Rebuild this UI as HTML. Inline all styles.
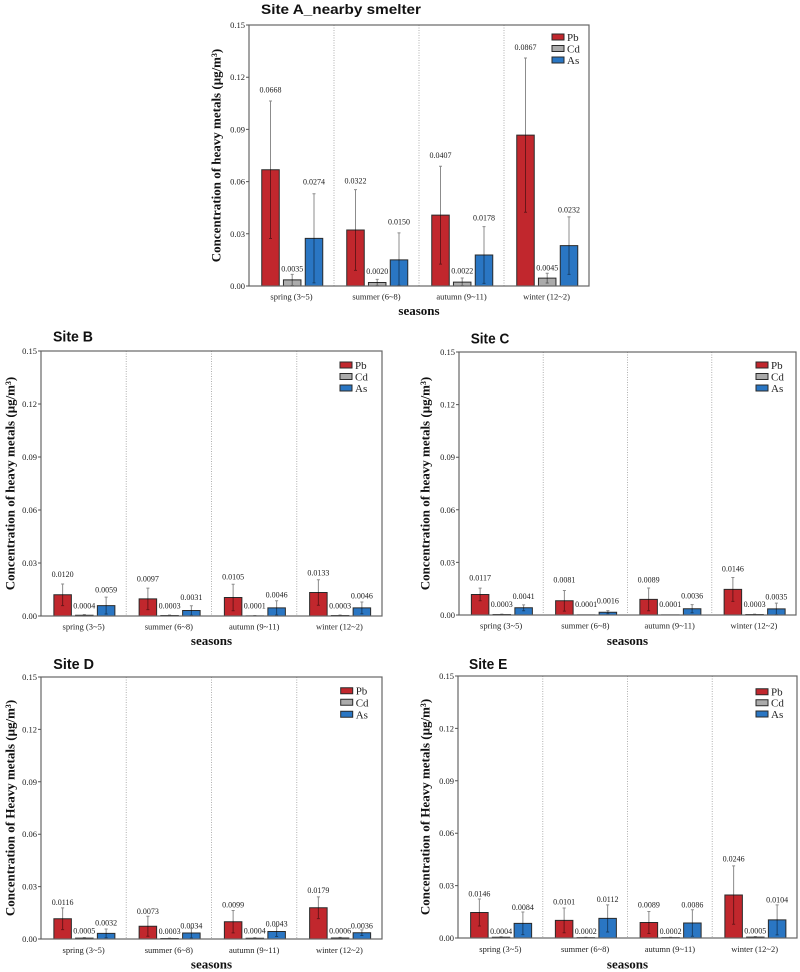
<!DOCTYPE html>
<html>
<head>
<meta charset="utf-8">
<style>
html,body{margin:0;padding:0;background:#fff;}
svg{display:block;}
.pb{fill:#c1272d;stroke:#2a2a2a;stroke-width:1;vector-effect:non-scaling-stroke;}
.cd{fill:#ababab;stroke:#2a2a2a;stroke-width:1;vector-effect:non-scaling-stroke;}
.as{fill:#2a76c3;stroke:#2a2a2a;stroke-width:1;vector-effect:non-scaling-stroke;}
.e{fill:none;stroke:#000;stroke-opacity:0.45;stroke-width:1;vector-effect:non-scaling-stroke;}
.fr{fill:none;stroke:#666;stroke-width:1.2;}
.dv{stroke:#b0b0b0;stroke-width:1;stroke-dasharray:1,1.5;}
.tk{stroke:#555;stroke-width:1;fill:none;}
.tl{font-family:"Liberation Serif",serif;font-size:8.5px;fill:#222;text-anchor:end;}
.xl{font-family:"Liberation Serif",serif;font-size:8.5px;fill:#222;text-anchor:middle;}
.vl{font-family:"Liberation Serif",serif;font-size:8px;fill:#222;text-anchor:middle;}
.lg{font-family:"Liberation Serif",serif;font-size:11px;fill:#222;}
.yt{font-family:"Liberation Serif",serif;font-size:13px;font-weight:bold;fill:#111;text-anchor:middle;dominant-baseline:central;}
.st{font-family:"Liberation Serif",serif;font-size:13px;font-weight:bold;fill:#111;text-anchor:middle;}
.ti{font-family:"Liberation Sans",sans-serif;font-weight:bold;fill:#111;}
</style>
</head>
<body>
<svg width="800" height="972" viewBox="0 0 800 972" xmlns="http://www.w3.org/2000/svg">
<rect x="0" y="0" width="800" height="972" fill="#fff"/>

<!-- ================= PANEL A ================= -->
<text class="ti" x="261" y="14" font-size="14" textLength="160" lengthAdjust="spacingAndGlyphs">Site A_nearby smelter</text>
<line class="dv" x1="334" y1="25" x2="334" y2="286"/>
<line class="dv" x1="419" y1="25" x2="419" y2="286"/>
<line class="dv" x1="504" y1="25" x2="504" y2="286"/>
<g transform="translate(291.5,286) scale(1,-1740)">
<rect class="pb" x="-29.75" y="0" width="17.5" height="0.0668"/>
<rect class="cd" x="-8.05" y="0" width="17.5" height="0.0035"/>
<rect class="as" x="13.75" y="0" width="17.5" height="0.0274"/>
<path class="e" d="M-21 .0273V.1063M-22.5 .1063H-19.5M-22.5 .0273H-19.5M.7 .0003V.0067M-.8 .0067H2.2M-.8 .0003H2.2M22.5 .0018V.053M21 .053H24M21 .0018H24"/>
</g>
<g transform="translate(376.5,286) scale(1,-1740)">
<rect class="pb" x="-29.75" y="0" width="17.5" height="0.0322"/>
<rect class="cd" x="-8.05" y="0" width="17.5" height="0.0020"/>
<rect class="as" x="13.75" y="0" width="17.5" height="0.0150"/>
<path class="e" d="M-21 .009V.0554M-22.5 .0554H-19.5M-22.5 .009H-19.5M.7 .0002V.0038M-.8 .0038H2.2M-.8 .0002H2.2M22.5 .0004V.0305M21 .0305H24M21 .0004H24"/>
</g>
<g transform="translate(461.5,286) scale(1,-1740)">
<rect class="pb" x="-29.75" y="0" width="17.5" height="0.0407"/>
<rect class="cd" x="-8.05" y="0" width="17.5" height="0.0022"/>
<rect class="as" x="13.75" y="0" width="17.5" height="0.0178"/>
<path class="e" d="M-21 .0126V.0688M-22.5 .0688H-19.5M-22.5 .0126H-19.5M.7 .0002V.0046M-.8 .0046H2.2M-.8 .0002H2.2M22.5 .0015V.0341M21 .0341H24M21 .0015H24"/>
</g>
<g transform="translate(546.5,286) scale(1,-1740)">
<rect class="pb" x="-29.75" y="0" width="17.5" height="0.0867"/>
<rect class="cd" x="-8.05" y="0" width="17.5" height="0.0045"/>
<rect class="as" x="13.75" y="0" width="17.5" height="0.0232"/>
<path class="e" d="M-21 .0424V.131M-22.5 .131H-19.5M-22.5 .0424H-19.5M.7 .0017V.0073M-.8 .0073H2.2M-.8 .0017H2.2M22.5 .0067V.0397M21 .0397H24M21 .0067H24"/>
</g>
<rect class="fr" x="249" y="25" width="340" height="261"/>
<path class="tk" d="M246 286H249M246 233.8H249M246 181.6H249M246 129.4H249M246 77.2H249M246 25H249"/>
<text class="tl" x="245" y="289">0.00</text>
<text class="tl" x="245" y="236.8">0.03</text>
<text class="tl" x="245" y="184.6">0.06</text>
<text class="tl" x="245" y="132.4">0.09</text>
<text class="tl" x="245" y="80.2">0.12</text>
<text class="tl" x="245" y="28">0.15</text>
<text class="vl" x="270.5" y="92.3">0.0668</text>
<text class="vl" x="292.2" y="271.3">0.0035</text>
<text class="vl" x="314" y="184.7">0.0274</text>
<text class="vl" x="355.5" y="183.3">0.0322</text>
<text class="vl" x="377.2" y="274">0.0020</text>
<text class="vl" x="399" y="224.7">0.0150</text>
<text class="vl" x="440.5" y="158">0.0407</text>
<text class="vl" x="462.2" y="273.7">0.0022</text>
<text class="vl" x="484" y="220.3">0.0178</text>
<text class="vl" x="525.5" y="50">0.0867</text>
<text class="vl" x="547.2" y="270.7">0.0045</text>
<text class="vl" x="569" y="212.3">0.0232</text>
<text class="xl" x="291.5" y="299.5">spring (3~5)</text>
<text class="xl" x="376.5" y="299.5">summer (6~8)</text>
<text class="xl" x="461.5" y="299.5">autumn (9~11)</text>
<text class="xl" x="546.5" y="299.5">winter (12~2)</text>
<text class="st" x="419" y="315">seasons</text>
<text class="yt" transform="translate(216,155.5) rotate(-90)">Concentration of heavy metals (μg/m³)</text>
<rect class="pb" x="552" y="34" width="12" height="6"/>
<rect class="cd" x="552" y="45.5" width="12" height="6"/>
<rect class="as" x="552" y="57" width="12" height="6"/>
<text class="lg" x="567" y="41">Pb</text>
<text class="lg" x="567" y="52.5">Cd</text>
<text class="lg" x="567" y="64">As</text>

<!-- ================= PANEL B ================= -->
<text class="ti" x="53" y="341.7" font-size="15" textLength="40" lengthAdjust="spacingAndGlyphs">Site B</text>
<line class="dv" x1="126.25" y1="351" x2="126.25" y2="616"/>
<line class="dv" x1="211.5" y1="351" x2="211.5" y2="616"/>
<line class="dv" x1="296.75" y1="351" x2="296.75" y2="616"/>
<g transform="translate(83.625,616) scale(1,-1766.67)">
<rect class="pb" x="-29.75" y="0" width="17.5" height="0.0120"/>
<rect class="cd" x="-8.05" y="0" width="17.5" height="0.0004"/>
<rect class="as" x="13.75" y="0" width="17.5" height="0.0059"/>
<path class="e" d="M-21 .0059V.0181M-22.5 .0181H-19.5M-22.5 .0059H-19.5M.7 0V.0008M-.8 .0008H2.2M22.5 .0011V.0107M21 .0107H24M21 .0011H24"/>
</g>
<g transform="translate(168.875,616) scale(1,-1766.67)">
<rect class="pb" x="-29.75" y="0" width="17.5" height="0.0097"/>
<rect class="cd" x="-8.05" y="0" width="17.5" height="0.0003"/>
<rect class="as" x="13.75" y="0" width="17.5" height="0.0031"/>
<path class="e" d="M-21 .0036V.0158M-22.5 .0158H-19.5M-22.5 .0036H-19.5M.7 0V.0006M-.8 .0006H2.2M22.5 .0004V.0058M21 .0058H24M21 .0004H24"/>
</g>
<g transform="translate(254.125,616) scale(1,-1766.67)">
<rect class="pb" x="-29.75" y="0" width="17.5" height="0.0105"/>
<rect class="cd" x="-8.05" y="0" width="17.5" height="0.0001"/>
<rect class="as" x="13.75" y="0" width="17.5" height="0.0046"/>
<path class="e" d="M-21 .003V.018M-22.5 .018H-19.5M-22.5 .003H-19.5M.7 0V.0003M-.8 .0003H2.2M22.5 .0006V.0086M21 .0086H24M21 .0006H24"/>
</g>
<g transform="translate(339.375,616) scale(1,-1766.67)">
<rect class="pb" x="-29.75" y="0" width="17.5" height="0.0133"/>
<rect class="cd" x="-8.05" y="0" width="17.5" height="0.0003"/>
<rect class="as" x="13.75" y="0" width="17.5" height="0.0046"/>
<path class="e" d="M-21 .0061V.0205M-22.5 .0205H-19.5M-22.5 .0061H-19.5M.7 0V.0006M-.8 .0006H2.2M22.5 .0013V.0079M21 .0079H24M21 .0013H24"/>
</g>
<rect class="fr" x="41" y="351" width="341" height="265"/>
<path class="tk" d="M38 616H41M38 563H41M38 510H41M38 457H41M38 404H41M38 351H41"/>
<text class="tl" x="37" y="619">0.00</text>
<text class="tl" x="37" y="566">0.03</text>
<text class="tl" x="37" y="513">0.06</text>
<text class="tl" x="37" y="460">0.09</text>
<text class="tl" x="37" y="407">0.12</text>
<text class="tl" x="37" y="354">0.15</text>
<text class="vl" x="62.6" y="577">0.0120</text>
<text class="vl" x="84.3" y="608.3">0.0004</text>
<text class="vl" x="106.1" y="592.3">0.0059</text>
<text class="vl" x="147.9" y="581.7">0.0097</text>
<text class="vl" x="169.6" y="608.7">0.0003</text>
<text class="vl" x="191.4" y="600">0.0031</text>
<text class="vl" x="233.1" y="579.3">0.0105</text>
<text class="vl" x="254.8" y="608.3">0.0001</text>
<text class="vl" x="276.6" y="597.7">0.0046</text>
<text class="vl" x="318.4" y="575.3">0.0133</text>
<text class="vl" x="340.1" y="608.3">0.0003</text>
<text class="vl" x="361.9" y="598.3">0.0046</text>
<text class="xl" x="83.625" y="629.5">spring (3~5)</text>
<text class="xl" x="168.875" y="629.5">summer (6~8)</text>
<text class="xl" x="254.125" y="629.5">autumn (9~11)</text>
<text class="xl" x="339.375" y="629.5">winter (12~2)</text>
<text class="st" x="211.5" y="645">seasons</text>
<text class="yt" transform="translate(10,483.5) rotate(-90)">Concentration of heavy metals (μg/m³)</text>
<rect class="pb" x="340" y="362" width="12" height="6"/>
<rect class="cd" x="340" y="373.5" width="12" height="6"/>
<rect class="as" x="340" y="385" width="12" height="6"/>
<text class="lg" x="355" y="369">Pb</text>
<text class="lg" x="355" y="380.5">Cd</text>
<text class="lg" x="355" y="392">As</text>

<!-- ================= PANEL C ================= -->
<text class="ti" x="470.7" y="343.3" font-size="15" textLength="38.6" lengthAdjust="spacingAndGlyphs">Site C</text>
<line class="dv" x1="543.25" y1="352" x2="543.25" y2="615"/>
<line class="dv" x1="627.5" y1="352" x2="627.5" y2="615"/>
<line class="dv" x1="711.75" y1="352" x2="711.75" y2="615"/>
<g transform="translate(501.125,615) scale(1,-1753.33)">
<rect class="pb" x="-29.75" y="0" width="17.5" height="0.0117"/>
<rect class="cd" x="-8.05" y="0" width="17.5" height="0.0003"/>
<rect class="as" x="13.75" y="0" width="17.5" height="0.0041"/>
<path class="e" d="M-21 .0081V.0153M-22.5 .0153H-19.5M-22.5 .0081H-19.5M.7 .0001V.0005M-.8 .0005H2.2M22.5 .0024V.0058M21 .0058H24M21 .0024H24"/>
</g>
<g transform="translate(585.375,615) scale(1,-1753.33)">
<rect class="pb" x="-29.75" y="0" width="17.5" height="0.0081"/>
<rect class="cd" x="-8.05" y="0" width="17.5" height="0.0001"/>
<rect class="as" x="13.75" y="0" width="17.5" height="0.0016"/>
<path class="e" d="M-21 .0022V.014M-22.5 .014H-19.5M-22.5 .0022H-19.5M.7 0V.0002M22.5 .0007V.0025M21 .0025H24M21 .0007H24"/>
</g>
<g transform="translate(669.625,615) scale(1,-1753.33)">
<rect class="pb" x="-29.75" y="0" width="17.5" height="0.0089"/>
<rect class="cd" x="-8.05" y="0" width="17.5" height="0.0001"/>
<rect class="as" x="13.75" y="0" width="17.5" height="0.0036"/>
<path class="e" d="M-21 .0024V.0154M-22.5 .0154H-19.5M-22.5 .0024H-19.5M.7 0V.0002M22.5 .0013V.0059M21 .0059H24M21 .0013H24"/>
</g>
<g transform="translate(753.875,615) scale(1,-1753.33)">
<rect class="pb" x="-29.75" y="0" width="17.5" height="0.0146"/>
<rect class="cd" x="-8.05" y="0" width="17.5" height="0.0003"/>
<rect class="as" x="13.75" y="0" width="17.5" height="0.0035"/>
<path class="e" d="M-21 .0078V.0214M-22.5 .0214H-19.5M-22.5 .0078H-19.5M.7 .0001V.0005M-.8 .0005H2.2M22.5 .0002V.0068M21 .0068H24M21 .0002H24"/>
</g>
<rect class="fr" x="459" y="352" width="337" height="263"/>
<path class="tk" d="M456 615H459M456 562.4H459M456 509.8H459M456 457.2H459M456 404.6H459M456 352H459"/>
<text class="tl" x="455" y="618">0.00</text>
<text class="tl" x="455" y="565.4">0.03</text>
<text class="tl" x="455" y="512.8">0.06</text>
<text class="tl" x="455" y="460.2">0.09</text>
<text class="tl" x="455" y="407.6">0.12</text>
<text class="tl" x="455" y="355">0.15</text>
<text class="vl" x="480.1" y="580.3">0.0117</text>
<text class="vl" x="501.8" y="607">0.0003</text>
<text class="vl" x="523.6" y="599">0.0041</text>
<text class="vl" x="564.4" y="582.7">0.0081</text>
<text class="vl" x="586.1" y="607">0.0001</text>
<text class="vl" x="607.9" y="603.7">0.0016</text>
<text class="vl" x="648.6" y="582.7">0.0089</text>
<text class="vl" x="670.3" y="607">0.0001</text>
<text class="vl" x="692.1" y="598.3">0.0036</text>
<text class="vl" x="732.9" y="571.3">0.0146</text>
<text class="vl" x="754.6" y="607">0.0003</text>
<text class="vl" x="776.4" y="599.3">0.0035</text>
<text class="xl" x="501.125" y="628.5">spring (3~5)</text>
<text class="xl" x="585.375" y="628.5">summer (6~8)</text>
<text class="xl" x="669.625" y="628.5">autumn (9~11)</text>
<text class="xl" x="753.875" y="628.5">winter (12~2)</text>
<text class="st" x="627.5" y="645">seasons</text>
<text class="yt" transform="translate(425,483.5) rotate(-90)">Concentration of heavy metals (μg/m³)</text>
<rect class="pb" x="756" y="362" width="12" height="6"/>
<rect class="cd" x="756" y="373.5" width="12" height="6"/>
<rect class="as" x="756" y="385" width="12" height="6"/>
<text class="lg" x="771" y="369">Pb</text>
<text class="lg" x="771" y="380.5">Cd</text>
<text class="lg" x="771" y="392">As</text>

<!-- ================= PANEL D ================= -->
<text class="ti" x="53.3" y="669" font-size="15" textLength="40.7" lengthAdjust="spacingAndGlyphs">Site D</text>
<line class="dv" x1="126.25" y1="677" x2="126.25" y2="939"/>
<line class="dv" x1="211.5" y1="677" x2="211.5" y2="939"/>
<line class="dv" x1="296.75" y1="677" x2="296.75" y2="939"/>
<g transform="translate(83.625,939) scale(1,-1746.67)">
<rect class="pb" x="-29.75" y="0" width="17.5" height="0.0116"/>
<rect class="cd" x="-8.05" y="0" width="17.5" height="0.0005"/>
<rect class="as" x="13.75" y="0" width="17.5" height="0.0032"/>
<path class="e" d="M-21 .0054V.0178M-22.5 .0178H-19.5M-22.5 .0054H-19.5M.7 .0002V.0008M-.8 .0008H2.2M-.8 .0002H2.2M22.5 .0007V.0057M21 .0057H24M21 .0007H24"/>
</g>
<g transform="translate(168.875,939) scale(1,-1746.67)">
<rect class="pb" x="-29.75" y="0" width="17.5" height="0.0073"/>
<rect class="cd" x="-8.05" y="0" width="17.5" height="0.0003"/>
<rect class="as" x="13.75" y="0" width="17.5" height="0.0034"/>
<path class="e" d="M-21 .0016V.013M-22.5 .013H-19.5M-22.5 .0016H-19.5M.7 .0001V.0005M-.8 .0005H2.2M22.5 .0006V.0062M21 .0062H24M21 .0006H24"/>
</g>
<g transform="translate(254.125,939) scale(1,-1746.67)">
<rect class="pb" x="-29.75" y="0" width="17.5" height="0.0099"/>
<rect class="cd" x="-8.05" y="0" width="17.5" height="0.0004"/>
<rect class="as" x="13.75" y="0" width="17.5" height="0.0043"/>
<path class="e" d="M-21 .0035V.0163M-22.5 .0163H-19.5M-22.5 .0035H-19.5M.7 .0001V.0007M-.8 .0007H2.2M22.5 .0014V.0072M21 .0072H24M21 .0014H24"/>
</g>
<g transform="translate(339.375,939) scale(1,-1746.67)">
<rect class="pb" x="-29.75" y="0" width="17.5" height="0.0179"/>
<rect class="cd" x="-8.05" y="0" width="17.5" height="0.0006"/>
<rect class="as" x="13.75" y="0" width="17.5" height="0.0036"/>
<path class="e" d="M-21 .0117V.0241M-22.5 .0241H-19.5M-22.5 .0117H-19.5M.7 .0003V.0009M-.8 .0009H2.2M22.5 .002V.0052M21 .0052H24M21 .002H24"/>
</g>
<rect class="fr" x="41" y="677" width="341" height="262"/>
<path class="tk" d="M38 939H41M38 886.6H41M38 834.2H41M38 781.8H41M38 729.4H41M38 677H41"/>
<text class="tl" x="37" y="942">0.00</text>
<text class="tl" x="37" y="889.6">0.03</text>
<text class="tl" x="37" y="837.2">0.06</text>
<text class="tl" x="37" y="784.8">0.09</text>
<text class="tl" x="37" y="732.4">0.12</text>
<text class="tl" x="37" y="680">0.15</text>
<text class="vl" x="62.6" y="905">0.0116</text>
<text class="vl" x="84.3" y="933.7">0.0005</text>
<text class="vl" x="106.1" y="925.7">0.0032</text>
<text class="vl" x="147.9" y="914">0.0073</text>
<text class="vl" x="169.6" y="934">0.0003</text>
<text class="vl" x="191.4" y="928.3">0.0034</text>
<text class="vl" x="233.1" y="907.7">0.0099</text>
<text class="vl" x="254.8" y="933.7">0.0004</text>
<text class="vl" x="276.6" y="926.7">0.0043</text>
<text class="vl" x="318.4" y="893">0.0179</text>
<text class="vl" x="340.1" y="933.3">0.0006</text>
<text class="vl" x="361.9" y="928.3">0.0036</text>
<text class="xl" x="83.625" y="953">spring (3~5)</text>
<text class="xl" x="168.875" y="953">summer (6~8)</text>
<text class="xl" x="254.125" y="953">autumn (9~11)</text>
<text class="xl" x="339.375" y="953">winter (12~2)</text>
<text class="st" x="211.5" y="968.7">seasons</text>
<text class="yt" transform="translate(10,808) rotate(-90)">Concentration of Heavy metals (μg/m³)</text>
<rect class="pb" x="340.7" y="687.7" width="12" height="6"/>
<rect class="cd" x="340.7" y="699.3" width="12" height="6"/>
<rect class="as" x="340.7" y="711.3" width="12" height="6"/>
<text class="lg" x="355.7" y="694.7">Pb</text>
<text class="lg" x="355.7" y="706.3">Cd</text>
<text class="lg" x="355.7" y="718.3">As</text>

<!-- ================= PANEL E ================= -->
<text class="ti" x="469" y="669" font-size="15" textLength="38.3" lengthAdjust="spacingAndGlyphs">Site E</text>
<line class="dv" x1="542.75" y1="676" x2="542.75" y2="938"/>
<line class="dv" x1="627.5" y1="676" x2="627.5" y2="938"/>
<line class="dv" x1="712.25" y1="676" x2="712.25" y2="938"/>
<g transform="translate(500.375,938) scale(1,-1746.67)">
<rect class="pb" x="-29.75" y="0" width="17.5" height="0.0146"/>
<rect class="cd" x="-8.05" y="0" width="17.5" height="0.0004"/>
<rect class="as" x="13.75" y="0" width="17.5" height="0.0084"/>
<path class="e" d="M-21 .0069V.0223M-22.5 .0223H-19.5M-22.5 .0069H-19.5M.7 .0001V.0007M-.8 .0007H2.2M22.5 .0019V.0149M21 .0149H24M21 .0019H24"/>
</g>
<g transform="translate(585.125,938) scale(1,-1746.67)">
<rect class="pb" x="-29.75" y="0" width="17.5" height="0.0101"/>
<rect class="cd" x="-8.05" y="0" width="17.5" height="0.0002"/>
<rect class="as" x="13.75" y="0" width="17.5" height="0.0112"/>
<path class="e" d="M-21 .003V.0172M-22.5 .0172H-19.5M-22.5 .003H-19.5M.7 0V.0004M-.8 .0004H2.2M22.5 .0034V.019M21 .019H24M21 .0034H24"/>
</g>
<g transform="translate(669.875,938) scale(1,-1746.67)">
<rect class="pb" x="-29.75" y="0" width="17.5" height="0.0089"/>
<rect class="cd" x="-8.05" y="0" width="17.5" height="0.0002"/>
<rect class="as" x="13.75" y="0" width="17.5" height="0.0086"/>
<path class="e" d="M-21 .0026V.0152M-22.5 .0152H-19.5M-22.5 .0026H-19.5M.7 0V.0004M-.8 .0004H2.2M22.5 .001V.0162M21 .0162H24M21 .001H24"/>
</g>
<g transform="translate(754.625,938) scale(1,-1746.67)">
<rect class="pb" x="-29.75" y="0" width="17.5" height="0.0246"/>
<rect class="cd" x="-8.05" y="0" width="17.5" height="0.0005"/>
<rect class="as" x="13.75" y="0" width="17.5" height="0.0104"/>
<path class="e" d="M-21 .0079V.0413M-22.5 .0413H-19.5M-22.5 .0079H-19.5M.7 .0002V.0008M-.8 .0008H2.2M22.5 .0018V.019M21 .019H24M21 .0018H24"/>
</g>
<rect class="fr" x="458" y="676" width="339" height="262"/>
<path class="tk" d="M455 938H458M455 885.6H458M455 833.2H458M455 780.8H458M455 728.4H458M455 676H458"/>
<text class="tl" x="454" y="941">0.00</text>
<text class="tl" x="454" y="888.6">0.03</text>
<text class="tl" x="454" y="836.2">0.06</text>
<text class="tl" x="454" y="783.8">0.09</text>
<text class="tl" x="454" y="731.4">0.12</text>
<text class="tl" x="454" y="679">0.15</text>
<text class="vl" x="479.4" y="896.3">0.0146</text>
<text class="vl" x="501.1" y="934">0.0004</text>
<text class="vl" x="522.9" y="910">0.0084</text>
<text class="vl" x="564.1" y="904.3">0.0101</text>
<text class="vl" x="585.8" y="934">0.0002</text>
<text class="vl" x="607.6" y="902">0.0112</text>
<text class="vl" x="648.9" y="907.7">0.0089</text>
<text class="vl" x="670.6" y="934">0.0002</text>
<text class="vl" x="692.4" y="907.3">0.0086</text>
<text class="vl" x="733.6" y="861.7">0.0246</text>
<text class="vl" x="755.3" y="933.3">0.0005</text>
<text class="vl" x="777.1" y="902.3">0.0104</text>
<text class="xl" x="500.375" y="952">spring (3~5)</text>
<text class="xl" x="585.125" y="952">summer (6~8)</text>
<text class="xl" x="669.875" y="952">autumn (9~11)</text>
<text class="xl" x="754.625" y="952">winter (12~2)</text>
<text class="st" x="627.5" y="968.7">seasons</text>
<text class="yt" transform="translate(425,807) rotate(-90)">Concentration of Heavy metals (μg/m³)</text>
<rect class="pb" x="756" y="688.7" width="12" height="6"/>
<rect class="cd" x="756" y="699.7" width="12" height="6"/>
<rect class="as" x="756" y="711" width="12" height="6"/>
<text class="lg" x="771" y="695.7">Pb</text>
<text class="lg" x="771" y="706.7">Cd</text>
<text class="lg" x="771" y="718">As</text>
</svg>
</body>
</html>
